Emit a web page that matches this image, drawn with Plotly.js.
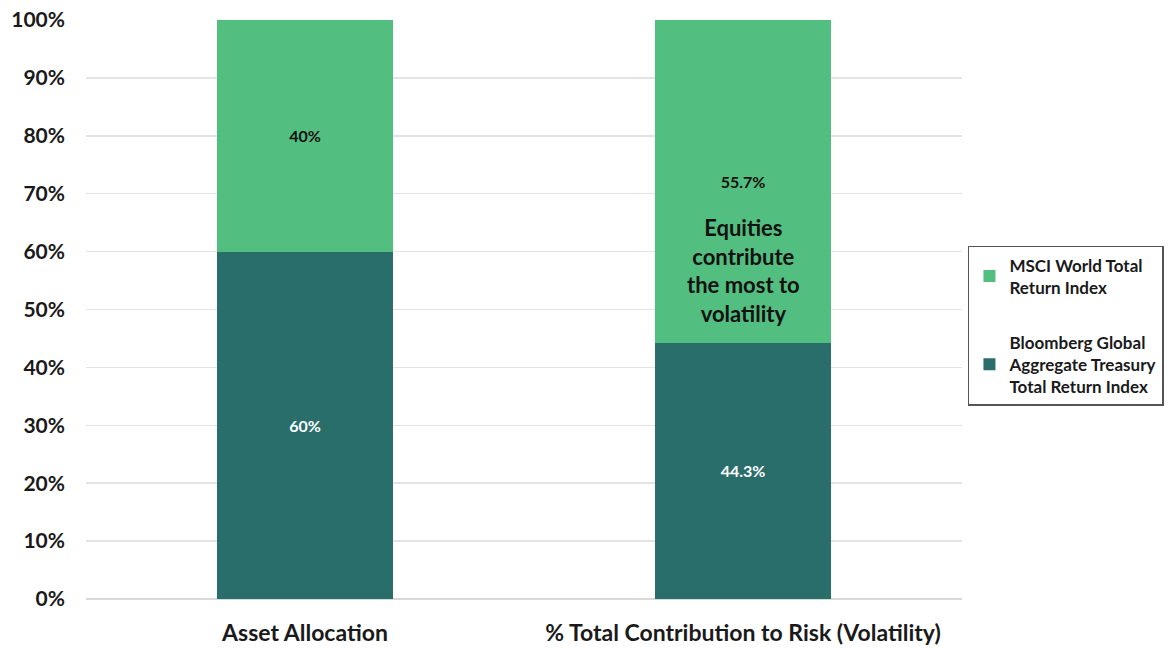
<!DOCTYPE html>
<html>
<head>
<meta charset="utf-8">
<script src="https://cdn.plot.ly/plotly-3.0.1.min.js"></script>
<style>html,body{margin:0;padding:0;background:#fff;}#chart{width:1171px;height:648px;}</style>
</head>
<body>
<div id="chart"></div>
<script>
const categories = ["Asset Allocation", "% Total Contribution to Risk (Volatility)"];
const bondValues = [60, 44.3];
const equityValues = [40, 55.7];
const seriesNames = ["Bloomberg Global<br>Aggregate Treasury<br>Total Return Index", "MSCI World Total<br>Return Index"];
const noteText = "Equities<br>contribute<br>the most to<br>volatility";
const noteCategory = categories[1];
const noteValue = 56.8;

const FONT = "Lato, 'Open Sans', sans-serif";

const traces = [
  {
    type: "bar", x: categories, y: bondValues, name: seriesNames[0], legendgroup: "bond", legendrank: 2,
    marker: {color: "#2a6e6c"},
    texttemplate: "<b>%{y}</b>", textposition: "inside", insidetextanchor: "middle",
    textfont: {color: "#ffffff", size: 16, family: FONT},
    hoverinfo: "none"
  },
  {
    type: "bar", x: categories, y: equityValues, name: seriesNames[1], legendgroup: "eq", legendrank: 1,
    marker: {color: "#52bf80"},
    texttemplate: "<b>%{y}</b>", textposition: "inside", insidetextanchor: "middle",
    textfont: {color: "#111111", size: 16, family: FONT},
    hoverinfo: "none"
  }
];

const layout = {
  width: 1171, height: 648,
  margin: {l: 86, r: 209, t: 20, b: 49},
  barmode: "stack",
  bargap: 0.6,
  paper_bgcolor: "#ffffff", plot_bgcolor: "#ffffff",
  font: {family: FONT, color: "#1a1a1a"},
  xaxis: {
    tickfont: {size: 23, family: FONT, color: "#1a1a1a", weight: "bold"},
    showline: false, ticks: "", showgrid: false,
    ticklabelstandoff: 18
  },
  yaxis: {
    range: [0, 100], dtick: 10, ticksuffix: "%",
    tickfont: {size: 21, family: FONT, color: "#1a1a1a", weight: "bold"},
    gridcolor: "#e3e3e3", gridwidth: 1.5, zeroline: true, zerolinecolor: "#d9d9d9", zerolinewidth: 1.5,
    ticks: "", ticklen: 0, showline: false,
    ticklabelstandoff: 20
  },
  showlegend: true,
  legend: {
    xref: "container", yref: "container",
    x: 0.8266, xanchor: "left", y: 0.6204, yanchor: "top",
    traceorder: "grouped",
    bordercolor: "#555555", borderwidth: 1.5,
    bgcolor: "#ffffff",
    font: {size: 17, family: FONT, color: "#1a1a1a", weight: "bold"},
    tracegroupgap: 30,
    itemwidth: 30
  },
  annotations: [
    {
      x: noteCategory, y: noteValue, xref: "x", yref: "y",
      text: "<b>" + noteText + "</b>", showarrow: false,
      font: {size: 22, family: FONT, color: "#111111"},
      align: "center"
    }
  ]
};

Plotly.newPlot("chart", traces, layout, {displayModeBar: false, staticPlot: true});
</script>
</body>
</html>
